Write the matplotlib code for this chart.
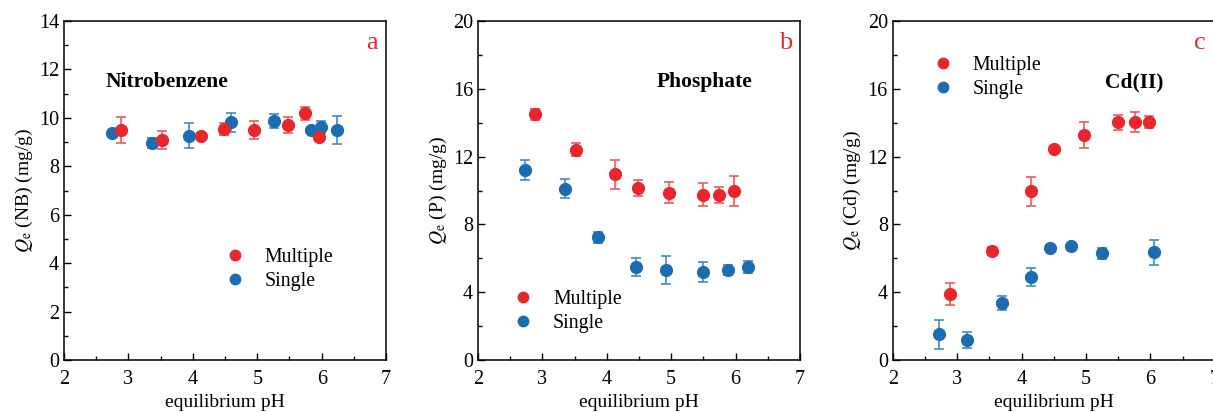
# -*- coding: utf-8 -*-
# three panels: adsorption capacity vs equilibrium pH

from matplotlib import pyplot as plt
from matplotlib.lines import Line2D
from matplotlib.ticker import MultipleLocator

plt.rcParams['font.family'] = ['Liberation Serif', 'DejaVu Serif']
plt.rcParams['mathtext.fontset'] = 'stix'

RED = '#e8262b'
RED_ERR = '#ee5a5e'
BLUE = '#1c6cb2'
BLUE_ERR = '#3c8cca'

# panel a - nitrobenzene
nb_multi_ph = [2.89, 3.52, 4.12, 4.49, 4.95, 5.48, 5.74, 5.96]
nb_multi_q = [9.50, 9.09, 9.26, 9.53, 9.50, 9.71, 10.19, 9.23]
nb_multi_err = [0.53, 0.37, 0.12, 0.25, 0.39, 0.32, 0.28, 0.15]
nb_single_ph = [2.75, 3.36, 3.94, 4.59, 5.26, 5.84, 5.99, 6.24]
nb_single_q = [9.37, 8.95, 9.26, 9.81, 9.88, 9.50, 9.64, 9.50]
nb_single_err = [0.10, 0.20, 0.52, 0.38, 0.30, 0.10, 0.25, 0.57]

# panel b - phosphate
p_multi_ph = [2.89, 3.53, 4.13, 4.49, 4.96, 5.49, 5.74, 5.97]
p_multi_q = [14.50, 12.42, 10.96, 10.16, 9.88, 9.76, 9.76, 9.96]
p_multi_err = [0.33, 0.40, 0.86, 0.47, 0.60, 0.67, 0.47, 0.90]
p_single_ph = [2.73, 3.35, 3.87, 4.46, 4.92, 5.49, 5.89, 6.19]
p_single_q = [11.20, 10.12, 7.25, 5.50, 5.30, 5.19, 5.30, 5.50]
p_single_err = [0.59, 0.57, 0.33, 0.55, 0.83, 0.59, 0.31, 0.37]

# panel c - Cd(II)
cd_multi_ph = [2.89, 3.54, 4.14, 4.51, 4.97, 5.50, 5.76, 5.98]
cd_multi_q = [3.91, 6.44, 9.96, 12.48, 13.28, 14.03, 14.03, 14.03]
cd_multi_err = [0.65, 0.22, 0.86, 0.15, 0.75, 0.45, 0.60, 0.37]
cd_single_ph = [2.72, 3.16, 3.70, 4.14, 4.44, 4.77, 5.25, 6.05]
cd_single_q = [1.51, 1.20, 3.36, 4.91, 6.64, 6.72, 6.29, 6.35]
cd_single_err = [0.85, 0.47, 0.43, 0.55, 0.15, 0.15, 0.30, 0.73]

panels = [
    dict(multi=(nb_multi_ph, nb_multi_q, nb_multi_err),
         single=(nb_single_ph, nb_single_q, nb_single_err),
         ylabel=r'$Q_\mathrm{e}$ (NB) (mg/g)', ymax=14, ymaj=2, ymin=1,
         name='Nitrobenzene', name_xy=(0.13, 0.82), letter='a',
         leg_xy=(0.50, 0.268)),
    dict(multi=(p_multi_ph, p_multi_q, p_multi_err),
         single=(p_single_ph, p_single_q, p_single_err),
         ylabel=r'$Q_\mathrm{e}$ (P) (mg/g)', ymax=20, ymaj=4, ymin=2,
         name='Phosphate', name_xy=(0.556, 0.82), letter='b',
         leg_xy=(0.11, 0.143)),
    dict(multi=(cd_multi_ph, cd_multi_q, cd_multi_err),
         single=(cd_single_ph, cd_single_q, cd_single_err),
         ylabel=r'$Q_\mathrm{e}$ (Cd) (mg/g)', ymax=20, ymaj=4, ymin=2,
         name='Cd(II)', name_xy=(0.66, 0.82), letter='c',
         leg_xy=(0.125, 0.833)),
]

fig = plt.figure(figsize=(12.13, 4.12), dpi=100)
lefts = [0.0528, 0.394, 0.736]

for left, p in zip(lefts, panels):
    ax = fig.add_axes([left, 0.126, 0.2655, 0.823])
    x, y, e = p['single']
    ax.errorbar(x, y, yerr=e, fmt='o', color=BLUE, ecolor=BLUE_ERR,
                ms=8.5, elinewidth=1.2, capsize=3.5, capthick=1.2, zorder=3)
    x, y, e = p['multi']
    ax.errorbar(x, y, yerr=e, fmt='o', color=RED, ecolor=RED_ERR,
                ms=8.5, elinewidth=1.2, capsize=3.5, capthick=1.2, zorder=3)

    ax.set_xlim(2, 7)
    ax.set_ylim(0, p['ymax'])
    ax.xaxis.set_major_locator(MultipleLocator(1))
    ax.xaxis.set_minor_locator(MultipleLocator(0.5))
    ax.yaxis.set_major_locator(MultipleLocator(p['ymaj']))
    ax.yaxis.set_minor_locator(MultipleLocator(p['ymin']))
    ax.tick_params(which='both', direction='in', top=False, right=False,
                   labelsize=14.5, width=1)
    ax.tick_params(which='major', length=5)
    ax.tick_params(which='minor', length=3)
    ax.tick_params(axis='x', pad=7)
    for s in ax.spines.values():
        s.set_linewidth(1.1)

    ax.set_xlabel('equilibrium pH', fontsize=14, labelpad=4)
    ax.set_ylabel(p['ylabel'], fontsize=14, labelpad=3)

    ax.text(p['name_xy'][0], p['name_xy'][1], p['name'], transform=ax.transAxes,
            fontsize=15.5, fontweight='bold', va='center', ha='left')
    ax.text(0.955, 0.935, p['letter'], transform=ax.transAxes, color=RED,
            fontsize=19, va='center', ha='center')

    handles = [Line2D([], [], ls='none', marker='o', color=RED, ms=7.5),
               Line2D([], [], ls='none', marker='o', color=BLUE, ms=7.5)]
    ax.legend(handles, ['Multiple', 'Single'], loc='center left',
              bbox_to_anchor=p['leg_xy'], frameon=False, fontsize=14.3,
              handlelength=1.0, handletextpad=1.0, labelspacing=0.25,
              borderpad=0, borderaxespad=0)

fig.savefig('out.png', dpi=100)
